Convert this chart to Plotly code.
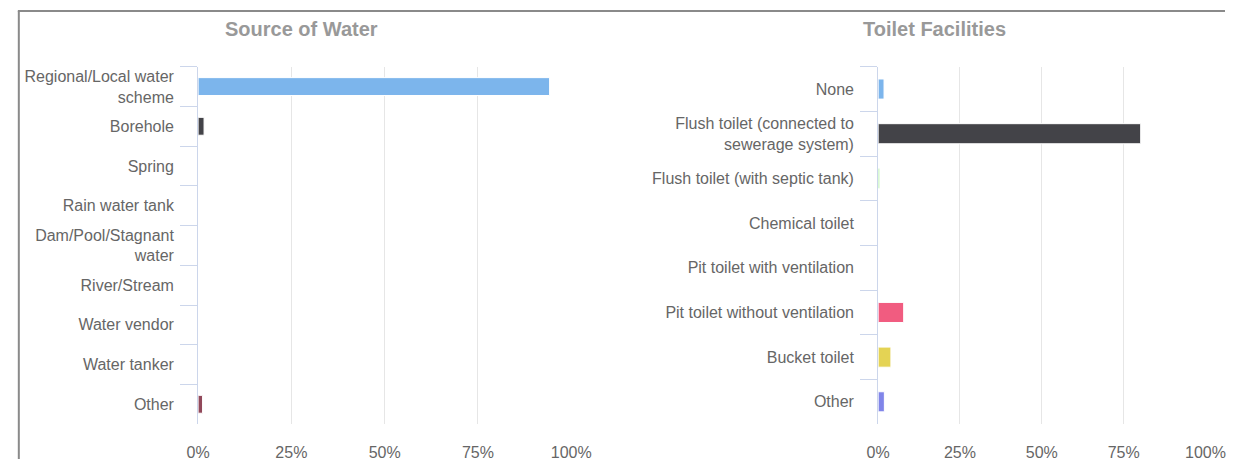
import plotly.graph_objects as go

W, H = 1245, 461

water_categories = ["Regional/Local water<br>scheme", "Borehole", "Spring", "Rain water tank",
                    "Dam/Pool/Stagnant<br>water", "River/Stream", "Water vendor", "Water tanker", "Other"]
water_values = [94.2, 1.6, 0.0, 0.0, 0.0, 0.0, 0.0, 0.0, 1.2]
water_colors = ["#7cb5ec", "#434348", "#90ed7d", "#f7a35c", "#8085e9", "#f15c80", "#e4d354", "#2b908f", "#91485a"]

toilet_categories = ["None", "Flush toilet (connected to<br>sewerage system)", "Flush toilet (with septic tank)",
                     "Chemical toilet", "Pit toilet with ventilation", "Pit toilet without ventilation",
                     "Bucket toilet", "Other"]
toilet_values = [1.8, 80.2, 0.5, 0.0, 0.0, 7.8, 3.9, 1.9]
toilet_colors = ["#7cb5ec", "#434348", "#90ed7d", "#f7a35c", "#8085e9", "#f15c80", "#e4d354", "#8085e9"]

x_ticks = [0, 25, 50, 75, 100]
x_ticklabels = ["0%", "25%", "50%", "75%", "100%"]


def px_x(p):
    return p / W


def px_y(p):
    return 1 - p / H


fig = go.Figure()
fig.add_trace(go.Bar(x=water_values, y=water_categories, orientation="h",
                     marker=dict(color=water_colors, line=dict(color="white", width=1)),
                     xaxis="x", yaxis="y", showlegend=False))
fig.add_trace(go.Bar(x=toilet_values, y=toilet_categories, orientation="h",
                     marker=dict(color=toilet_colors, line=dict(color="white", width=1)),
                     xaxis="x2", yaxis="y2", showlegend=False))

font_lbl = dict(family="Liberation Sans, Arial, sans-serif", size=16, color="#666666")
xaxis_common = dict(range=[0, 100], tickvals=x_ticks, ticktext=x_ticklabels,
                    showgrid=True, gridcolor="#e6e6e6", gridwidth=1, zeroline=False,
                    ticks="outside", ticklen=14, tickcolor="rgba(0,0,0,0)",
                    tickfont=dict(family="Liberation Sans, Arial, sans-serif", size=16, color="#666666"),
                    showline=False, fixedrange=True)
yaxis_common = dict(type="category", autorange="reversed", showline=True, linecolor="#ccd6eb", linewidth=1,
                    ticks="outside", tickson="boundaries", ticklen=17, tickcolor="#ccd6eb",
                    ticklabelstandoff=20,
                    tickfont=font_lbl, showgrid=False, zeroline=False, fixedrange=True)

fig.update_layout(
    width=W, height=H,
    margin=dict(l=0, r=0, t=0, b=0),
    paper_bgcolor="white", plot_bgcolor="white",
    bargap=0.55,
    xaxis=dict(domain=[px_x(191), px_x(574)], anchor="y", **xaxis_common),
    yaxis=dict(domain=[px_y(426), px_y(67)], anchor="x", **yaxis_common),
    xaxis2=dict(domain=[px_x(889), px_x(1225)], anchor="y2", **xaxis_common),
    yaxis2=dict(domain=[px_y(426), px_y(67)], anchor="x2", **yaxis_common),
    annotations=[
        dict(text="<b>Source of Water</b>", x=px_x(297), y=px_y(29), xref="paper", yref="paper",
             showarrow=False, xanchor="center", yanchor="middle",
             font=dict(family="Liberation Sans, Arial, sans-serif", size=20, color="#999999")),
        dict(text="<b>Toilet Facilities</b>", x=px_x(947), y=px_y(29), xref="paper", yref="paper",
             showarrow=False, xanchor="center", yanchor="middle",
             font=dict(family="Liberation Sans, Arial, sans-serif", size=20, color="#999999")),
    ],
    shapes=[
        dict(type="line", xref="paper", yref="paper", x0=px_x(6), x1=1, y0=px_y(11), y1=px_y(11),
             line=dict(color="#8a8a8a", width=2)),
        dict(type="line", xref="paper", yref="paper", x0=px_x(7), x1=px_x(7), y0=0, y1=px_y(11),
             line=dict(color="#8a8a8a", width=2)),
    ],
)

post = ("document.documentElement.style.margin='0';"
        "document.body.style.margin='0';"
        "document.body.style.overflow='hidden';")

fig.write_html("out.html", config={"displayModeBar": False}, post_script=post)
